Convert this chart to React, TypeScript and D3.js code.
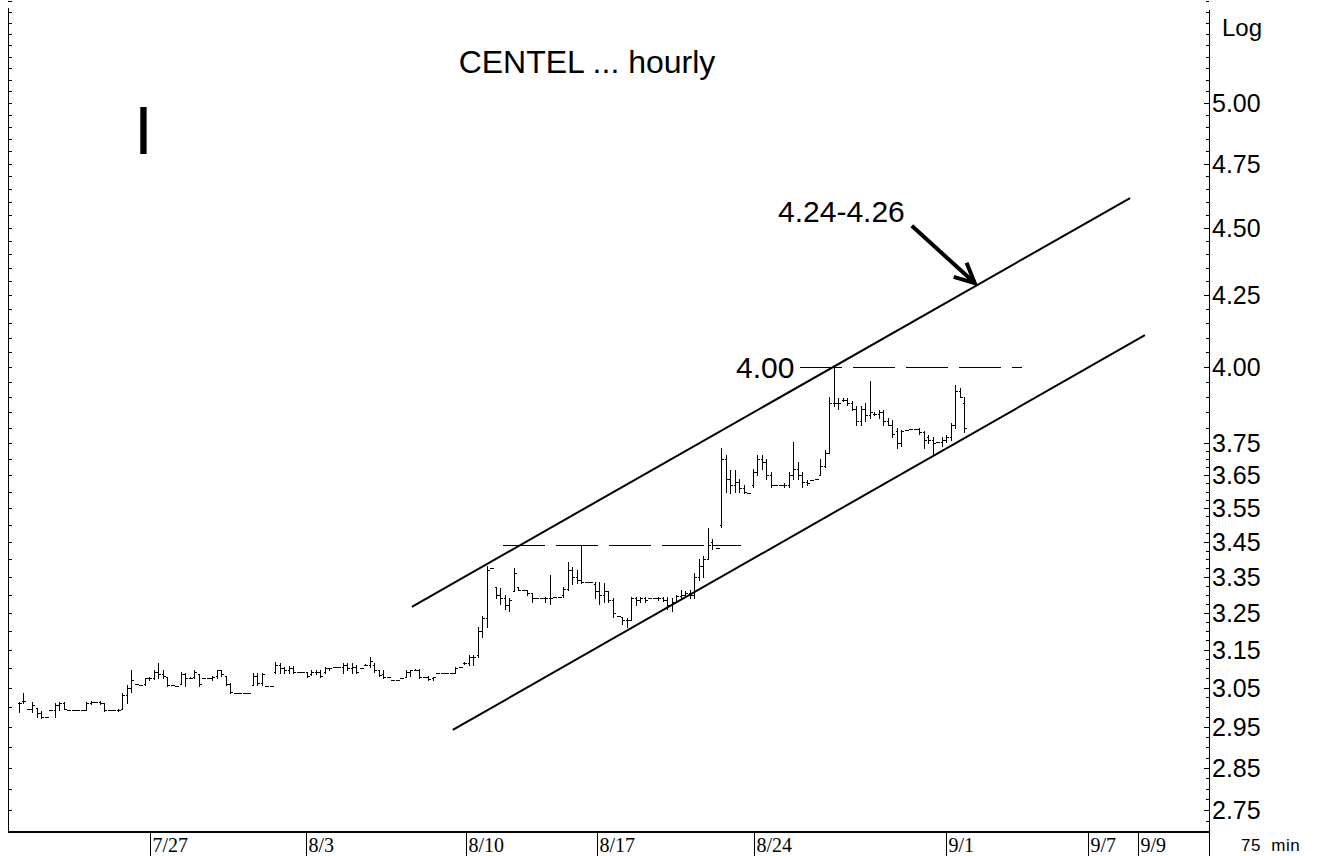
import React from "react";
import * as d3 from "d3";

// ---- data ----
// hourly (75 min) bars: [open, high, low, close], one per slot
const hourlyBars: [number, number, number, number][] = [
  [3.01, 3.014, 2.988, 3.012], [3.015, 3.037, 3.012, 3.015], [2.995, 2.995, 2.995, 2.995], [2.995, 3.014, 2.988, 3.005],
  [2.998, 2.998, 2.975, 2.985], [2.985, 2.99, 2.972, 2.975], [2.975, 2.975, 2.975, 2.975], [2.993, 2.993, 2.993, 2.993],
  [2.993, 3.011, 2.975, 3.005], [3.005, 3.014, 2.993, 3.01], [3.01, 3.014, 2.995, 2.995], [2.993, 2.993, 2.993, 2.993],
  [2.993, 2.993, 2.993, 2.993], [2.993, 2.993, 2.993, 2.993], [2.993, 2.993, 2.993, 2.993], [2.993, 3.014, 2.993, 3.012],
  [3.012, 3.016, 3.008, 3.014], [3.014, 3.014, 3.014, 3.014], [3.014, 3.016, 3.008, 3.012], [3.012, 3.012, 2.99, 2.993],
  [2.993, 2.993, 2.993, 2.993], [2.993, 2.993, 2.993, 2.993], [2.993, 2.995, 2.99, 2.993], [2.995, 3.037, 2.995, 3.03],
  [3.03, 3.058, 3.011, 3.05], [3.05, 3.097, 3.04, 3.07], [3.06, 3.06, 3.06, 3.06], [3.058, 3.058, 3.058, 3.058],
  [3.06, 3.076, 3.058, 3.076], [3.076, 3.078, 3.07, 3.076], [3.076, 3.097, 3.073, 3.09], [3.09, 3.115, 3.076, 3.085],
  [3.085, 3.097, 3.076, 3.08], [3.078, 3.078, 3.055, 3.058], [3.058, 3.058, 3.058, 3.058], [3.055, 3.055, 3.055, 3.055],
  [3.06, 3.091, 3.06, 3.085], [3.085, 3.087, 3.055, 3.076], [3.076, 3.078, 3.074, 3.076], [3.078, 3.097, 3.076, 3.09],
  [3.085, 3.085, 3.055, 3.06], [3.076, 3.076, 3.076, 3.076], [3.076, 3.076, 3.076, 3.076], [3.076, 3.08, 3.07, 3.078],
  [3.08, 3.097, 3.076, 3.095], [3.095, 3.097, 3.08, 3.085], [3.08, 3.08, 3.058, 3.06], [3.06, 3.063, 3.037, 3.04],
  [3.037, 3.037, 3.037, 3.037], [3.037, 3.037, 3.037, 3.037], [3.037, 3.037, 3.037, 3.037], [3.037, 3.037, 3.037, 3.037],
  [3.058, 3.089, 3.058, 3.08], [3.08, 3.089, 3.058, 3.063], [3.063, 3.089, 3.058, 3.085], [3.055, 3.055, 3.055, 3.055],
  [3.055, 3.055, 3.055, 3.055], [3.09, 3.118, 3.089, 3.11], [3.11, 3.115, 3.089, 3.1], [3.1, 3.104, 3.089, 3.095],
  [3.095, 3.106, 3.089, 3.1], [3.1, 3.106, 3.089, 3.092], [3.09, 3.09, 3.09, 3.09], [3.091, 3.091, 3.091, 3.091],
  [3.091, 3.092, 3.078, 3.08], [3.085, 3.097, 3.082, 3.09], [3.09, 3.095, 3.085, 3.09], [3.09, 3.097, 3.078, 3.08],
  [3.09, 3.104, 3.089, 3.1], [3.1, 3.102, 3.095, 3.1], [3.104, 3.104, 3.104, 3.104], [3.104, 3.104, 3.104, 3.104],
  [3.104, 3.115, 3.089, 3.11], [3.11, 3.115, 3.095, 3.1], [3.1, 3.115, 3.089, 3.105], [3.105, 3.11, 3.089, 3.09],
  [3.1, 3.1, 3.1, 3.1], [3.11, 3.112, 3.108, 3.11], [3.11, 3.13, 3.104, 3.12], [3.11, 3.115, 3.091, 3.095],
  [3.095, 3.097, 3.08, 3.082], [3.085, 3.097, 3.076, 3.078], [3.078, 3.078, 3.078, 3.078], [3.07, 3.07, 3.07, 3.07],
  [3.07, 3.07, 3.07, 3.07], [3.075, 3.075, 3.075, 3.075], [3.078, 3.097, 3.078, 3.09], [3.09, 3.097, 3.08, 3.097],
  [3.097, 3.098, 3.095, 3.097], [3.097, 3.098, 3.076, 3.078], [3.078, 3.078, 3.078, 3.078], [3.078, 3.08, 3.07, 3.072],
  [3.075, 3.078, 3.07, 3.078], [3.089, 3.089, 3.089, 3.089], [3.089, 3.089, 3.089, 3.089], [3.089, 3.089, 3.089, 3.089],
  [3.089, 3.089, 3.089, 3.089], [3.089, 3.104, 3.087, 3.1], [3.104, 3.104, 3.104, 3.104], [3.115, 3.118, 3.112, 3.115],
  [3.115, 3.136, 3.11, 3.13], [3.13, 3.136, 3.11, 3.13], [3.136, 3.21, 3.13, 3.2], [3.2, 3.24, 3.184, 3.235],
  [3.235, 3.38, 3.21, 3.37], [3.375, 3.375, 3.375, 3.375], [3.32, 3.32, 3.29, 3.3], [3.3, 3.318, 3.273, 3.29],
  [3.29, 3.3, 3.26, 3.27], [3.27, 3.29, 3.254, 3.285], [3.31, 3.375, 3.31, 3.36], [3.32, 3.32, 3.313, 3.313],
  [3.313, 3.313, 3.313, 3.313], [3.313, 3.313, 3.3, 3.305], [3.305, 3.305, 3.28, 3.29], [3.29, 3.29, 3.29, 3.29],
  [3.29, 3.29, 3.29, 3.29], [3.29, 3.293, 3.28, 3.29], [3.29, 3.355, 3.273, 3.29], [3.293, 3.293, 3.293, 3.293],
  [3.293, 3.293, 3.293, 3.293], [3.3, 3.32, 3.293, 3.315], [3.315, 3.392, 3.313, 3.37], [3.37, 3.378, 3.33, 3.35],
  [3.35, 3.37, 3.333, 3.34], [3.34, 3.44, 3.333, 3.336], [3.336, 3.336, 3.336, 3.336], [3.336, 3.336, 3.336, 3.336],
  [3.33, 3.336, 3.29, 3.31], [3.31, 3.336, 3.273, 3.3], [3.3, 3.333, 3.279, 3.31], [3.31, 3.31, 3.28, 3.285],
  [3.285, 3.29, 3.237, 3.25], [3.24, 3.24, 3.24, 3.24], [3.237, 3.237, 3.22, 3.23], [3.23, 3.235, 3.211, 3.23],
  [3.23, 3.293, 3.23, 3.29], [3.29, 3.293, 3.27, 3.285], [3.285, 3.293, 3.28, 3.29], [3.29, 3.293, 3.28, 3.285],
  [3.29, 3.29, 3.29, 3.29], [3.29, 3.29, 3.29, 3.29], [3.29, 3.293, 3.285, 3.29], [3.29, 3.293, 3.282, 3.285],
  [3.285, 3.293, 3.26, 3.27], [3.27, 3.29, 3.254, 3.28], [3.28, 3.3, 3.28, 3.295], [3.295, 3.313, 3.29, 3.3],
  [3.3, 3.31, 3.293, 3.305], [3.305, 3.313, 3.29, 3.3], [3.3, 3.36, 3.29, 3.35], [3.35, 3.4, 3.34, 3.38],
  [3.38, 3.41, 3.35, 3.4], [3.4, 3.49, 3.4, 3.44], [3.45, 3.46, 3.43, 3.44], [3.433, 3.433, 3.433, 3.433],
  [3.5, 3.735, 3.494, 3.7], [3.7, 3.714, 3.6, 3.64], [3.64, 3.667, 3.597, 3.62], [3.62, 3.667, 3.6, 3.63],
  [3.63, 3.64, 3.6, 3.61], [3.61, 3.62, 3.597, 3.6], [3.597, 3.597, 3.597, 3.597], [3.62, 3.67, 3.615, 3.66],
  [3.66, 3.714, 3.65, 3.7], [3.7, 3.714, 3.67, 3.69], [3.69, 3.7, 3.64, 3.65], [3.65, 3.66, 3.615, 3.62],
  [3.62, 3.62, 3.62, 3.62], [3.621, 3.621, 3.621, 3.621], [3.621, 3.625, 3.615, 3.62], [3.62, 3.66, 3.615, 3.65],
  [3.65, 3.754, 3.64, 3.67], [3.67, 3.69, 3.64, 3.65], [3.65, 3.66, 3.615, 3.63], [3.63, 3.635, 3.62, 3.625],
  [3.636, 3.636, 3.636, 3.636], [3.64, 3.64, 3.64, 3.64], [3.65, 3.7, 3.65, 3.68], [3.68, 3.729, 3.676, 3.72],
  [3.72, 3.9, 3.72, 3.88], [3.88, 4.0, 3.87, 3.88], [3.88, 3.897, 3.86, 3.88], [3.89, 3.897, 3.885, 3.89],
  [3.89, 3.897, 3.875, 3.88], [3.88, 3.885, 3.857, 3.86], [3.86, 3.87, 3.81, 3.82], [3.82, 3.87, 3.81, 3.86],
  [3.86, 3.88, 3.82, 3.84], [3.84, 3.953, 3.83, 3.85], [3.845, 3.85, 3.84, 3.845], [3.845, 3.857, 3.83, 3.85],
  [3.85, 3.857, 3.81, 3.82], [3.82, 3.83, 3.809, 3.81], [3.81, 3.825, 3.77, 3.78], [3.79, 3.8, 3.735, 3.75],
  [3.75, 3.793, 3.74, 3.79], [3.793, 3.793, 3.793, 3.793], [3.795, 3.795, 3.795, 3.795], [3.795, 3.795, 3.795, 3.795],
  [3.795, 3.8, 3.78, 3.785], [3.785, 3.79, 3.735, 3.76], [3.77, 3.775, 3.75, 3.76], [3.76, 3.77, 3.714, 3.75],
  [3.755, 3.755, 3.755, 3.755], [3.755, 3.77, 3.74, 3.76], [3.76, 3.775, 3.754, 3.77], [3.77, 3.816, 3.76, 3.81],
  [3.81, 3.94, 3.8, 3.92], [3.92, 3.93, 3.9, 3.9], [3.88, 3.9, 3.786, 3.8],
];

const slotDomain = [-2.444, 264.444];
const priceDomain = [2.702, 5.455];

const dateTickSlots = [29.1, 63.8, 99.3, 128.4, 163.3, 206, 237.6, 248.7];
const dateTickLabels = ["7/27", "8/3", "8/10", "8/17", "8/24", "9/1", "9/7", "9/9"];

const priceTickValues = [5.0, 4.75, 4.5, 4.25, 4.0, 3.75, 3.65, 3.55, 3.45, 3.35, 3.25, 3.15, 3.05, 2.95, 2.85, 2.75];

// trend channel [slot, price]
const upperChannel: [number, number][] = [[87.3, 3.266], [246.9, 4.614]];
const lowerChannel: [number, number][] = [[96.4, 2.943], [250.2, 4.109]];
// horizontal dashed levels [fromSlot, toSlot, price]
const dashedLevels: [number, number, number][] = [[173.6, 222.9, 4.0], [107.6, 160.4, 3.44]];
// arrow pointing at channel target [slot, price]
const arrowFrom: [number, number] = [198.4, 4.507];
const arrowTo: [number, number] = [212.4, 4.294];

const SANS = "'Liberation Sans', Arial, sans-serif";
const SERIF = "'Liberation Serif', 'Times New Roman', serif";

export default function App() {
  const W = 1320, H = 856;
  const plotLeft = 8, plotRight = 1209, plotBottom = 831;
  const x = d3.scaleLinear().domain(slotDomain).range([plotLeft, plotRight]);
  const y = d3.scaleLog().domain(priceDomain).range([plotBottom, 0]);
  const px = (v: number) => Math.round(v) + 0.5;

  const minorRight: number[] = [];
  for (let v = 2.725; v < 3.75; v += 0.025) minorRight.push(+v.toFixed(3));
  for (let v = 3.75; v < 5.45; v += 0.05) minorRight.push(+v.toFixed(3));
  const minorLeft: number[] = [];
  for (let v = 2.75; v < 5.45; v += 0.05) minorLeft.push(+v.toFixed(3));

  const line = d3.line<[number, number]>().x((d) => x(d[0])).y((d) => y(d[1]));

  const ax1 = x(arrowFrom[0]), ay1 = y(arrowFrom[1]);
  const ax2 = x(arrowTo[0]), ay2 = y(arrowTo[1]);
  const ang = Math.atan2(ay2 - ay1, ax2 - ax1);
  const headLen = 22, headAng = 0.45;
  const h1 = [ax2 - headLen * Math.cos(ang - headAng), ay2 - headLen * Math.sin(ang - headAng)];
  const h2 = [ax2 - headLen * Math.cos(ang + headAng), ay2 - headLen * Math.sin(ang + headAng)];

  return (
    <svg width={W} height={H} style={{ position: "absolute", left: 0, top: 0, background: "#fff" }}>
      <rect x={0} y={0} width={W} height={H} fill="#fff" />
      {/* frame */}
      <g stroke="#000" strokeWidth={1} shapeRendering="crispEdges">
        <line x1={plotLeft + 0.5} y1={8} x2={plotLeft + 0.5} y2={plotBottom} />
        <line x1={plotRight + 0.5} y1={10} x2={plotRight + 0.5} y2={H} />
        <line x1={plotLeft} y1={plotBottom + 0.5} x2={plotRight + 1} y2={plotBottom + 0.5} strokeWidth={2} />
        {minorRight.map((v, i) => (
          <line key={"mr" + i} x1={plotRight - 3} x2={plotRight} y1={px(y(v))} y2={px(y(v))} />
        ))}
        {priceTickValues.map((v, i) => (
          <line key={"Mr" + i} x1={plotRight - 5} x2={plotRight} y1={px(y(v))} y2={px(y(v))} />
        ))}
        {minorLeft.map((v, i) => (
          <line key={"ml" + i} x1={plotLeft} x2={plotLeft + 4} y1={px(y(v))} y2={px(y(v))} />
        ))}
        {dateTickSlots.map((s, i) => (
          <line key={"dt" + i} x1={px(x(s))} x2={px(x(s))} y1={plotBottom} y2={H} />
        ))}
      </g>
      {/* price labels */}
      {priceTickValues.map((v, i) => (
        <text key={"pl" + i} x={plotRight + 3} y={y(v)} dy="0.36em" fontFamily={SANS} fontSize={25} fill="#000">
          {v.toFixed(2)}
        </text>
      ))}
      <text x={1222} y={36} fontFamily={SANS} fontSize={24} fill="#000">Log</text>
      <text x={1241} y={851} fontFamily={SANS} fontSize={17} fill="#000" style={{ whiteSpace: "pre" }} letterSpacing={0.5}>
        75  min
      </text>
      {/* date labels */}
      {dateTickSlots.map((s, i) => (
        <text key={"dl" + i} x={px(x(s)) + 2} y={852} fontFamily={SERIF} fontSize={20} fill="#000">
          {dateTickLabels[i]}
        </text>
      ))}
      {/* OHLC bars */}
      <g stroke="#000" strokeWidth={1} shapeRendering="crispEdges">
        {hourlyBars.map((b, i) => {
          const cx = px(x(i));
          const yo = px(y(b[0])), yh = Math.round(y(b[1])), yl = Math.round(y(b[2])), yc = px(y(b[3]));
          return (
            <g key={"b" + i}>
              {yl - yh >= 1 && <line x1={cx} x2={cx} y1={yh} y2={yl + 1} />}
              <line x1={cx - 2} x2={cx} y1={yo} y2={yo} />
              <line x1={cx} x2={cx + 2} y1={yc} y2={yc} />
            </g>
          );
        })}
      </g>
      {/* channel lines */}
      <path d={line(upperChannel) || ""} stroke="#000" strokeWidth={2} fill="none" />
      <path d={line(lowerChannel) || ""} stroke="#000" strokeWidth={2} fill="none" />
      {dashedLevels.map((d, i) => (
        <line key={"dl" + i} x1={x(d[0])} x2={x(d[1])} y1={px(y(d[2]))} y2={px(y(d[2]))}
          stroke="#000" strokeWidth={1} strokeDasharray="42 11" shapeRendering="crispEdges" />
      ))}
      {/* arrow */}
      <line x1={ax1} y1={ay1} x2={ax2} y2={ay2} stroke="#000" strokeWidth={4} />
      <polyline points={`${h1[0]},${h1[1]} ${ax2},${ay2} ${h2[0]},${h2[1]}`} stroke="#000" strokeWidth={4} fill="none" strokeLinejoin="miter" />
      {/* annotations */}
      <text x={778} y={222} fontFamily={SANS} fontSize={30} fill="#000">4.24-4.26</text>
      <text x={736} y={378} fontFamily={SANS} fontSize={30} fill="#000">4.00</text>
      <text x={587} y={73} textAnchor="middle" fontFamily={SANS} fontSize={32} fill="#000">CENTEL ... hourly</text>
      <text x={134} y={154} fontFamily={SANS} fontSize={68} fill="#000">I</text>
    </svg>
  );
}
